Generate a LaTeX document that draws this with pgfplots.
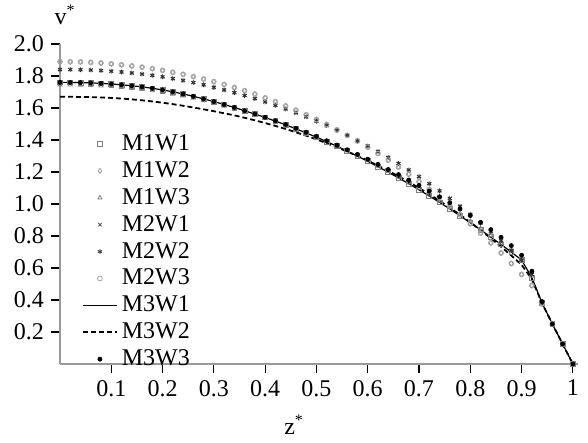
\documentclass[border=0pt]{standalone}
\usepackage{fontspec}
\setmainfont{Liberation Serif}
\usepackage{pgfplots}
\usepackage{pgfplotstable}
\pgfplotsset{compat=1.18}

% z, then five profile families
\pgfplotstableread{
z    A     B     C     D     Dp    E
0.00 1.890 1.840 1.760 1.745 1.760 1.670
0.02 1.889 1.840 1.760 1.745 1.760 1.670
0.04 1.888 1.839 1.759 1.744 1.759 1.669
0.06 1.885 1.837 1.757 1.742 1.757 1.668
0.08 1.881 1.834 1.754 1.739 1.754 1.666
0.10 1.876 1.830 1.750 1.735 1.750 1.663
0.12 1.870 1.825 1.745 1.730 1.745 1.659
0.14 1.863 1.819 1.739 1.724 1.739 1.654
0.16 1.855 1.812 1.732 1.717 1.732 1.648
0.18 1.846 1.804 1.723 1.709 1.723 1.641
0.20 1.835 1.795 1.713 1.699 1.713 1.633
0.22 1.823 1.784 1.701 1.688 1.701 1.624
0.24 1.810 1.772 1.688 1.676 1.688 1.614
0.26 1.796 1.759 1.673 1.662 1.673 1.603
0.28 1.781 1.745 1.657 1.647 1.657 1.592
0.30 1.765 1.729 1.640 1.631 1.640 1.580
0.32 1.747 1.713 1.622 1.613 1.622 1.567
0.34 1.728 1.696 1.603 1.595 1.603 1.554
0.36 1.708 1.678 1.583 1.576 1.583 1.539
0.38 1.686 1.659 1.562 1.556 1.563 1.523
0.40 1.663 1.638 1.541 1.536 1.542 1.506
0.42 1.639 1.617 1.518 1.514 1.520 1.488
0.44 1.613 1.594 1.495 1.491 1.497 1.469
0.46 1.586 1.570 1.470 1.468 1.473 1.448
0.48 1.558 1.545 1.444 1.443 1.448 1.427
0.50 1.528 1.518 1.418 1.417 1.422 1.404
0.52 1.497 1.490 1.390 1.390 1.395 1.380
0.54 1.464 1.460 1.361 1.362 1.368 1.355
0.56 1.429 1.430 1.330 1.333 1.339 1.328
0.58 1.393 1.397 1.299 1.302 1.310 1.300
0.60 1.355 1.363 1.267 1.271 1.280 1.271
0.62 1.315 1.328 1.233 1.238 1.248 1.240
0.64 1.274 1.291 1.199 1.204 1.216 1.207
0.66 1.231 1.253 1.163 1.169 1.184 1.173
0.68 1.186 1.213 1.127 1.133 1.150 1.138
0.70 1.140 1.171 1.089 1.096 1.116 1.100
0.72 1.091 1.127 1.050 1.058 1.081 1.061
0.74 1.041 1.082 1.010 1.018 1.045 1.020
0.76 0.988 1.035 0.969 0.977 1.008 0.977
0.78 0.934 0.986 0.926 0.936 0.969 0.932
0.80 0.877 0.935 0.883 0.893 0.928 0.886
0.82 0.818 0.882 0.839 0.848 0.885 0.837
0.84 0.757 0.827 0.793 0.803 0.840 0.786
0.86 0.694 0.770 0.747 0.756 0.792 0.733
0.88 0.628 0.711 0.699 0.708 0.740 0.678
0.90 0.560 0.650 0.650 0.659 0.680 0.620
0.92 0.490 0.560 0.540 0.550 0.580 0.530
0.94 0.375 0.385 0.380 0.380 0.390 0.380
0.96 0.250 0.250 0.250 0.250 0.250 0.250
0.98 0.125 0.125 0.125 0.125 0.125 0.125
1.00 0.000 0.000 0.000 0.000 0.000 0.000
}\profiles

\begin{document}
\begin{tikzpicture}
\path[use as bounding box] (0,0) rectangle (294pt,221.5pt);
\begin{axis}[
    at={(30pt,39.5pt)}, anchor=south west,
    scale only axis,
    width=259pt, height=160pt,
    xmin=0, xmax=1.01, ymin=0, ymax=2.0,
    axis x line*=bottom, axis y line*=left,
    axis line style={gray!80, line width=0.7pt},
    tick align=outside,
    major tick length=4.5pt,
    tick style={black, line width=0.6pt},
    xtick={0.1,0.2,...,0.9,1},
    ytick={0.2,0.4,...,2.0},
    xticklabels={0.1,0.2,0.3,0.4,0.5,0.6,0.7,0.8,0.9,1},
    yticklabel style={/pgf/number format/fixed, /pgf/number format/fixed zerofill, /pgf/number format/precision=1},
    /pgf/number format/assume math mode=true,
    ticklabel style={font=\fontsize{12}{14}\selectfont},
    xlabel={z\textsuperscript{*}},
    ylabel={v\textsuperscript{*}},
    label style={font=\fontsize{12}{14}\selectfont},
    xlabel style={at={(rel axis cs:0.452,0)}, anchor=north, yshift=-22pt},
    ylabel style={rotate=-90, at={(rel axis cs:0.01,1)}, anchor=south, yshift=6pt},
    legend cell align=left,
    legend style={draw=none, fill=none, at={(rel axis cs:0.03,0.743)}, anchor=north west,
        font=\fontsize{12}{13}\selectfont, row sep=0pt},
    every axis plot/.append style={mark size=1.2pt},
]
\addplot[only marks, mark=square, gray, thin] table[x=z, y=C] {\profiles};
\addlegendentry{M1W1}
\addplot[only marks, mark=diamond, gray!80, thin] table[x=z, y=A] {\profiles};
\addlegendentry{M1W2}
\addplot[only marks, mark=triangle, gray, thin] table[x=z, y=D] {\profiles};
\addlegendentry{M1W3}
\addplot[only marks, mark=x, gray!60!black, thin] table[x=z, y=B] {\profiles};
\addlegendentry{M2W1}
\addplot[only marks, mark=asterisk, gray!40!black, thin] table[x=z, y=B] {\profiles};
\addlegendentry{M2W2}
\addplot[only marks, mark=o, gray!70, thin] table[x=z, y=A] {\profiles};
\addlegendentry{M2W3}
\addplot[black, line width=0.6pt, mark=none] table[x=z, y=C] {\profiles};
\addlegendentry{M3W1}
\addplot[black, line width=0.9pt, dash pattern=on 2.5pt off 1.5pt, mark=none] table[x=z, y=E] {\profiles};
\addlegendentry{M3W2}
\addplot[only marks, mark=*, black, mark size=1pt] table[x=z, y=Dp] {\profiles};
\addlegendentry{M3W3}
\end{axis}
\end{tikzpicture}
\end{document}
